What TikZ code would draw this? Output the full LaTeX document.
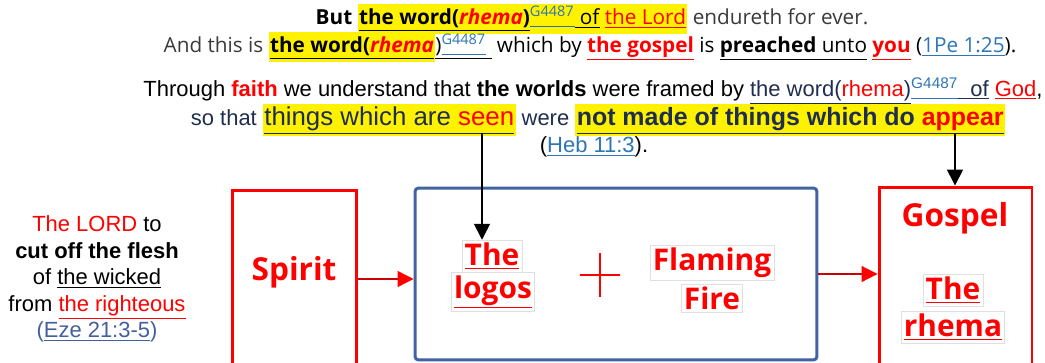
\documentclass[tikz,border=0pt]{standalone}
\usepackage{fontspec}
\setmainfont{Liberation Sans}
\newfontfamily\malgun{Open Sans}
\usetikzlibrary{arrows.meta}
\definecolor{link_blue}{HTML}{2E75B6}
\definecolor{eze_blue}{HTML}{44609C}
\definecolor{box_blue}{HTML}{4163A0}
\definecolor{navy}{HTML}{1F2D50}
\definecolor{dark_gray}{HTML}{3A3A3A}
\newcommand{\yel}[1]{{\setlength{\fboxsep}{0.8pt}\colorbox{yellow}{\strut #1}}}
\newcommand{\lnk}[1]{{\color{link_blue}\underline{#1}}}
\newcommand{\gnum}{{\color{link_blue}\underline{\textsuperscript{G4487}}}}

\begin{document}
\begin{tikzpicture}[x=0.02cm,y=-0.02cm,>={Triangle[length=9pt,width=9pt]},
    quote/.style={inner sep=0pt,font=\malgun\fontsize{11.8}{15}\selectfont},
    verse/.style={inner sep=0pt,font=\fontsize{12.5}{15}\selectfont},
    redbox/.style={draw=red,line width=1.7pt,minimum width=2.5cm},
    word/.style={text=red,font=\malgun\bfseries\fontsize{17}{20}\selectfont},
    tag/.style={word,draw=gray!25,fill=white,inner sep=1.5pt},
    flow/.style={draw=red!80!black,line width=0.6pt,-{Triangle[length=9pt,width=9pt,color=red]}}]
  \useasboundingbox (0,0) rectangle (1045,362);
  \clip (0,0) rectangle (1045,362);

  % 1Pe 1:25
  \node[quote] (rhemaA) at (592,19) {\textbf{But} \yel{\underline{\textbf{the word(}\textcolor{red}{\textbf{\textit{rhema}}}\textbf{)}}\gnum\underline{ of} {\color{red}\underline{the Lord}}} {\color{dark_gray}endureth for ever.}};
  \node[quote] (rhemaB) at (590,47) {{\color{dark_gray}And this is} \yel{\underline{\textbf{the word(}\textcolor{red}{\textbf{\textit{rhema}}}}}\underline{)\gnum\ } which by {\color{red}\underline{\textbf{the gospel}}} is \underline{\textbf{preached} unto} {\color{red}\underline{\textbf{you}}} (\lnk{1Pe 1:25}).};

  % Heb 11:3
  \node[verse] (hebA) at (593,91) {Through \textcolor{red}{\textbf{faith}} we understand that \textbf{the worlds} were framed by {\color{navy}\underline{the word(\textcolor{red}{rhema})}\gnum\underline{\ \ of} {\color{red}\underline{God}}},};
  \node[verse,text=navy] (hebB) at (598,120) {so that {\fontsize{14.7}{17}\selectfont\yel{\underline{things which are \textcolor{red}{seen}}}} were {\fontsize{14.2}{17}\selectfont\bfseries\yel{\underline{not made of things which do \textcolor{red}{appear}}}}};
  \node[verse] (hebRef) at (594,147) {(\lnk{Heb 11:3}).};

  % Eze 21:3-5
  \node[verse,align=center,text=black] (eze) at (97,279) {\textcolor{red}{The LORD} to\\ \textbf{cut off the flesh}\\ of \underline{the wicked}\\ from {\color{red}\underline{the righteous}}\\ {\color{eze_blue}(\underline{Eze 21:3-5})}};

  % boxes
  \node[redbox,minimum height=3.56cm] (spirit) at (294.5,279) {};
  \node[draw=box_blue,line width=1.7pt,rounded corners=2pt,minimum width=8.04cm,minimum height=3.44cm] (mid) at (616,274) {};
  \node[redbox,minimum width=3.06cm,minimum height=3.8cm] (gospel) at (955.5,282) {};

  \node[word,font=\malgun\bfseries\fontsize{18}{20}\selectfont] (spiritword) at (294,272) {Spirit};
  \node[tag] (the1) at (492,256) {\underline{The}};
  \node[tag] (logos) at (493,292) {\underline{logos}};
  \coordinate (plus) at (600,275);
  \draw[red,line width=1.2pt] (plus) ++(-20,0) -- ++(40,0) (plus) ++(0,-22) -- ++(0,44);
  \node[tag] (flaming) at (712,263) {Flaming};
  \node[tag] (fire) at (712,298) {Fire};
  \node[word,font=\malgun\bfseries\fontsize{18}{20}\selectfont] (gospelword) at (955,218) {Gospel};
  \node[tag] (the2) at (953,290) {\underline{The}};
  \node[tag] (rhema) at (953,327) {\underline{rhema}};

  % arrows
  \draw[flow] (spirit.east) -- (spirit.east -| mid.west);
  \draw[flow] (mid.east) -- (mid.east -| gospel.west);
  \coordinate (seen) at (482,133);
  \coordinate (appear) at (955,134);
  \draw[->,line width=0.9pt] (seen) -- (seen |- the1.north);
  \draw[->,line width=0.9pt] (appear) -- (appear |- gospel.north);
\end{tikzpicture}
\end{document}
